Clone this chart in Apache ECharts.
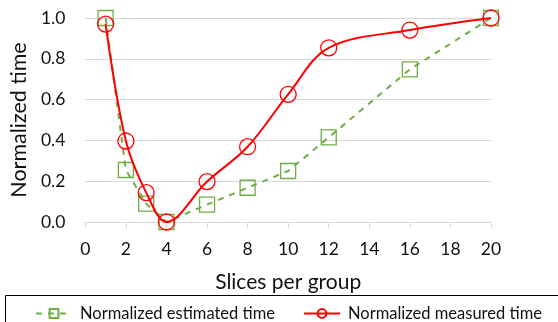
<!DOCTYPE html>
<html>
<head>
<meta charset="utf-8">
<script src="https://cdn.jsdelivr.net/npm/echarts@6/dist/echarts.min.js"></script>
<style>
  html, body { margin: 0; padding: 0; background: #fff; }
  #chart { width: 558px; height: 322px; }
</style>
</head>
<body>
<div id="chart"></div>
<script>
// Slices per group (x values)
const slices = [1, 2, 3, 4, 6, 8, 10, 12, 16, 20];
// Normalized estimated time
const estimated = [1.0, 0.255, 0.09, 0.0, 0.085, 0.168, 0.25, 0.415, 0.748, 1.0];
// Normalized measured time
const measured = [0.97, 0.397, 0.144, 0.0, 0.198, 0.369, 0.626, 0.854, 0.941, 1.0];

const FONT = 'Lato, "Open Sans", sans-serif';
const TEXT = '#111';
const GREEN = '#70ad47';
const RED = '#ff0000';

const pairs = (ys) => slices.map((x, i) => [x, ys[i]]);

const chart = echarts.init(document.getElementById('chart'), null, { renderer: 'canvas' });
chart.setOption({
  animation: false,
  backgroundColor: '#fff',
  grid: { left: 82, right: 67, top: 18, bottom: 100 },
  graphic: [{
    type: 'rect',
    shape: { x: 5.5, y: 295.5, width: 560, height: 40 },
    style: { fill: 'none', stroke: '#000', lineWidth: 1 },
    z: 0
  }],
  legend: {
    top: 300,
    left: 30,
    itemWidth: 36,
    itemHeight: 11,
    itemGap: 28,
    textStyle: { fontFamily: FONT, fontSize: 16.5, color: TEXT, padding: [0, 0, 0, 3] },
    data: ['Normalized estimated time', 'Normalized measured time']
  },
  xAxis: {
    type: 'value',
    min: 0, max: 20, interval: 2,
    name: 'Slices per group',
    nameLocation: 'middle',
    nameGap: 50,
    nameTextStyle: { fontFamily: FONT, fontSize: 21, color: TEXT },
    axisLine: { show: true, lineStyle: { color: '#d9d9d9', width: 1 } },
    axisTick: { show: true, length: 6, lineStyle: { color: '#d9d9d9' } },
    axisLabel: { fontFamily: FONT, fontSize: 17.5, color: TEXT, margin: 18 },
    splitLine: { show: false }
  },
  yAxis: {
    type: 'value',
    min: 0, max: 1, interval: 0.2,
    name: 'Normalized time',
    nameLocation: 'middle',
    nameGap: 53,
    nameTextStyle: { fontFamily: FONT, fontSize: 21.5, color: TEXT },
    axisLine: { show: false },
    axisTick: { show: false },
    axisLabel: { fontFamily: FONT, fontSize: 17.5, color: TEXT, margin: 20,
      formatter: (v) => v.toFixed(1) },
    splitLine: { show: true, lineStyle: { color: '#d9d9d9', width: 1 } }
  },
  series: [
    {
      name: 'Normalized estimated time',
      type: 'line',
      data: pairs(estimated),
      symbol: 'rect',
      symbolSize: 15,
      lineStyle: { color: GREEN, width: 2, type: [6, 6] },
      itemStyle: { color: 'rgba(255,255,255,0)', borderColor: GREEN, borderWidth: 1.3 },
      z: 2
    },
    {
      name: 'Normalized measured time',
      type: 'line',
      data: pairs(measured),
      smooth: 0.35,
      symbol: 'circle',
      symbolSize: 16,
      lineStyle: { color: RED, width: 2 },
      itemStyle: { color: 'rgba(255,255,255,0)', borderColor: RED, borderWidth: 1.3 },
      z: 3
    }
  ]
});
</script>
</body>
</html>
